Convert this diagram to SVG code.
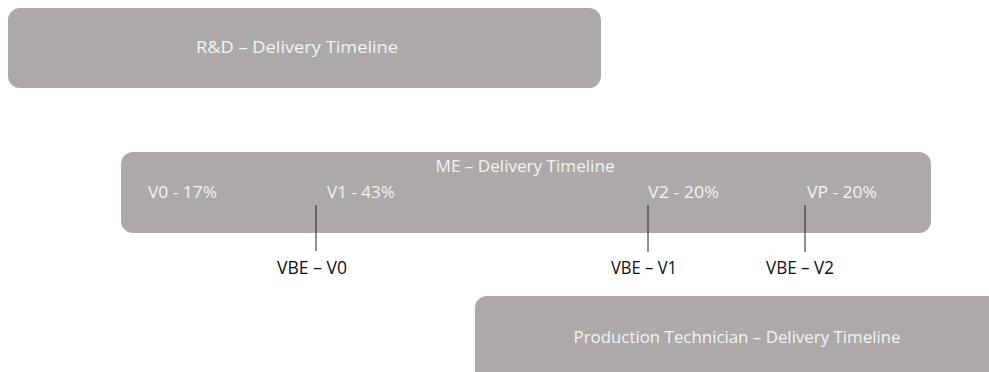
<svg xmlns="http://www.w3.org/2000/svg" width="989" height="372" viewBox="0 0 989 372">
  <style>
    .bar { fill: #ada9a8; }
    .bar-text { font-family: "Open Sans", "Liberation Sans", Arial, sans-serif; font-size: 16.5px; fill: #f4f4f4; }
    .gate-text { font-family: "Open Sans", "Liberation Sans", Arial, sans-serif; font-size: 17.5px; fill: #111111; text-anchor: middle; }
    .tick { stroke: #222222; stroke-width: 1; }
  </style>
  <rect width="989" height="372" fill="#ffffff"/>

  <g id="rd-timeline">
    <rect class="bar" x="8" y="8" width="593" height="80" rx="12"/>
    <text class="bar-text" x="297" y="53" text-anchor="middle" textLength="202" lengthAdjust="spacingAndGlyphs">R&amp;D – Delivery Timeline</text>
  </g>

  <g id="me-timeline">
    <rect class="bar" x="121" y="152" width="810" height="81" rx="12"/>
    <text class="bar-text" x="525" y="172" text-anchor="middle" textLength="179" lengthAdjust="spacingAndGlyphs">ME – Delivery Timeline</text>
    <text class="bar-text" x="148" y="198" textLength="69" lengthAdjust="spacingAndGlyphs">V0 - 17%</text>
    <text class="bar-text" x="327" y="198" textLength="68" lengthAdjust="spacingAndGlyphs">V1 - 43%</text>
    <text class="bar-text" x="648" y="198" textLength="71" lengthAdjust="spacingAndGlyphs">V2 - 20%</text>
    <text class="bar-text" x="807" y="198" textLength="70" lengthAdjust="spacingAndGlyphs">VP - 20%</text>
  </g>

  <g id="production-timeline">
    <rect class="bar" x="475" y="296" width="530" height="90" rx="12"/>
    <text class="bar-text" x="737" y="343" text-anchor="middle" textLength="327" lengthAdjust="spacingAndGlyphs">Production Technician – Delivery Timeline</text>
  </g>

  <g id="connectors">
    <line class="tick" x1="316" y1="205" x2="316" y2="251"/>
    <line class="tick" x1="648" y1="205" x2="648" y2="252"/>
    <line class="tick" x1="805" y1="205" x2="805" y2="252"/>
  </g>

  <g id="gate-vbe-v0">
    <text class="gate-text" x="312" y="274" textLength="70" lengthAdjust="spacingAndGlyphs">VBE – V0</text>
  </g>
  <g id="gate-vbe-v1">
    <text class="gate-text" x="644" y="274" textLength="66" lengthAdjust="spacingAndGlyphs">VBE – V1</text>
  </g>
  <g id="gate-vbe-v2">
    <text class="gate-text" x="800" y="274" textLength="68" lengthAdjust="spacingAndGlyphs">VBE – V2</text>
  </g>
</svg>
